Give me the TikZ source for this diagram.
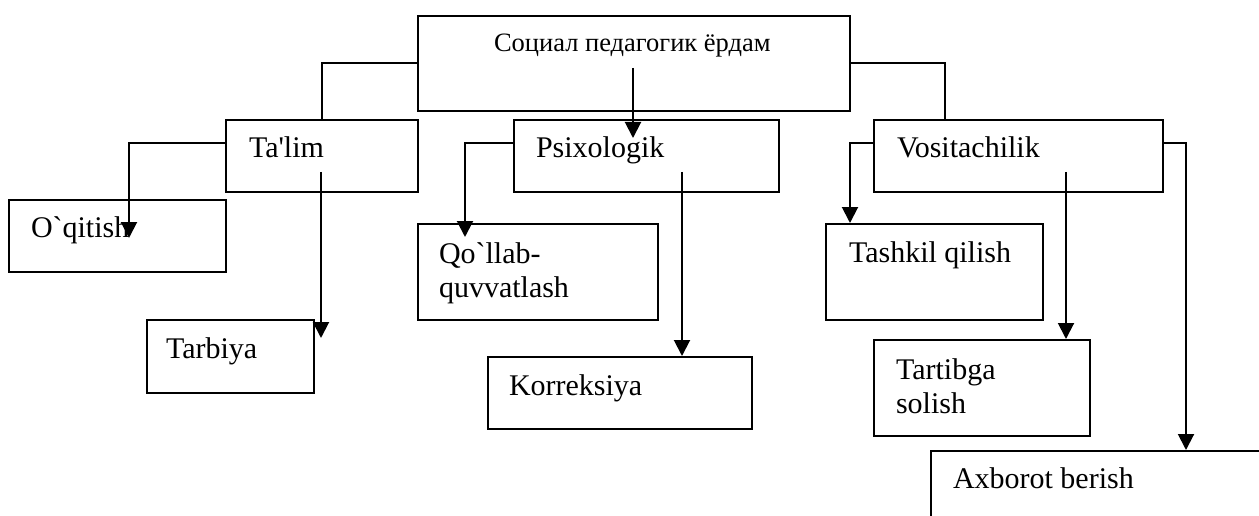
\documentclass[tikz,border=0pt]{standalone}
\usepackage{fontspec}
\setmainfont{Liberation Serif}[Ligatures=TeXOff]
\usetikzlibrary{arrows.meta}

\begin{document}
\begin{tikzpicture}[x=1pt, y=-1pt, line width=2pt,
    box/.style={draw, anchor=north west, inner sep=0pt},
    txt/.style={anchor=base west, inner sep=0pt, align=left, font=\fontsize{30}{34}\selectfont},
    arr/.style={-{Triangle[length=16pt,width=16pt]}}]
    \path[use as bounding box, clip] (0,0) rectangle (1259,516);
    \node[box, minimum width=432pt, minimum height=95pt] (help) at (417,15) {};
    \node[txt, font=\fontsize{26.5}{30}\selectfont] (helptext) at (493,52) {Социал педагогик ёрдам};
    \node[box, minimum width=192pt, minimum height=72pt] (talim) at (225,119) {};
    \node[txt] (talimtext) at (248,158) {Ta'lim};
    \node[box, minimum width=265pt, minimum height=72pt] (psix) at (513,119) {};
    \node[txt] (psixtext) at (535,158) {Psixologik};
    \node[box, minimum width=289pt, minimum height=72pt] (vosit) at (873,119) {};
    \node[txt] (vosittext) at (896,158) {Vositachilik};
    \node[box, minimum width=217pt, minimum height=72pt] (oqit) at (8,199) {};
    \node[txt] (oqittext) at (30,237) {O`qitish};
    \node[box, minimum width=167pt, minimum height=73pt] (tarb) at (146,319) {};
    \node[txt] (tarbtext) at (165,358) {Tarbiya};
    \node[box, minimum width=240pt, minimum height=96pt] (qollab) at (417,223) {};
    \node[txt] (qollabtext) at (438,297) {Qo`llab-\\quvvatlash};
    \node[box, minimum width=264pt, minimum height=72pt] (korr) at (487,356) {};
    \node[txt] (korrtext) at (508,395) {Korreksiya};
    \node[box, minimum width=217pt, minimum height=96pt] (tashkil) at (825,223) {};
    \node[txt] (tashkiltext) at (848,262) {Tashkil qilish};
    \node[box, minimum width=216pt, minimum height=96pt] (tartib) at (873,339) {};
    \node[txt] (tartibtext) at (895,413) {Tartibga\\solish};
    \node[box, minimum width=400pt, minimum height=120pt] (axb) at (930,450) {};
    \node[txt] (axbtext) at (952,488) {Axborot berish};
    \coordinate (helpout) at (633,68);
    \coordinate (psixin) at (633,138);
    \coordinate (vositin) at (945,119);
    \coordinate (talimleft) at (225,143);
    \coordinate (talimout) at (321,172);
    \coordinate (oqitin) at (129,238);
    \coordinate (tarbin) at (321,338);
    \coordinate (psixleft) at (513,143);
    \coordinate (psixout) at (682,172);
    \coordinate (qollabin) at (465,237);
    \coordinate (korrin) at (682,356);
    \coordinate (vositleft) at (873,143);
    \coordinate (vositright) at (1162,143);
    \coordinate (vositout) at (1066,172);
    \coordinate (tashkilin) at (850,223);
    \coordinate (tartibin) at (1066,339);
    \coordinate (axbin) at (1186,450);
    \draw (help.west) -| (talim.north);
    \draw (help.east) -| (vositin);
    \draw[arr] (helpout) -- (psixin);
    \draw[arr] (talimleft) -| (oqitin);
    \draw[arr] (talimout) -- (tarbin);
    \draw[arr] (psixleft) -| (qollabin);
    \draw[arr] (psixout) -- (korrin);
    \draw[arr] (vositleft) -| (tashkilin);
    \draw[arr] (vositout) -- (tartibin);
    \draw[arr] (vositright) -| (axbin);
\end{tikzpicture}
\end{document}
